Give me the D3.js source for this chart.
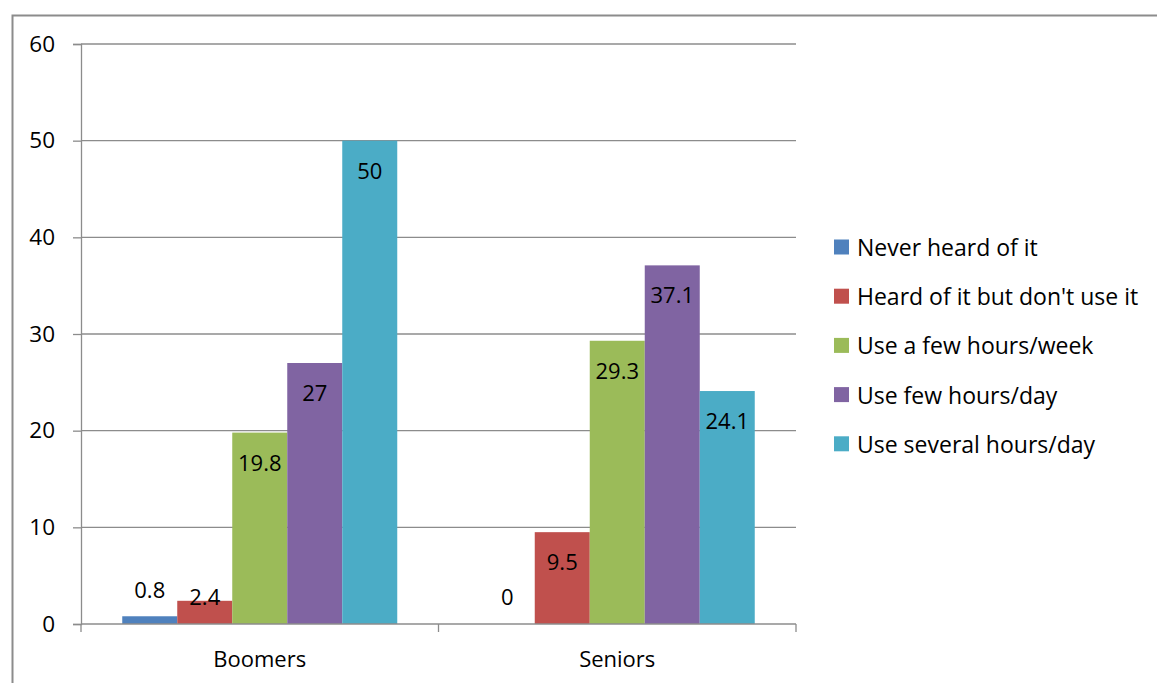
<!DOCTYPE html>
<html>
<head>
<meta charset="utf-8">
<script src="https://cdn.jsdelivr.net/npm/d3@7"></script>
<style>
  html, body { margin: 0; padding: 0; background: #fff; }
  svg { display: block; }
  text { font-family: "Open Sans", "Noto Sans", sans-serif; fill: #000; }
</style>
</head>
<body>
<svg id="chart" width="1157" height="683"></svg>
<script>
// Survey groups and response shares (%)
const categories = ["Boomers", "Seniors"];
const seriesNames = [
  "Never heard of it",
  "Heard of it but don't use it",
  "Use a few hours/week",
  "Use few hours/day",
  "Use several hours/day"
];
const boomersValues = [0.8, 2.4, 19.8, 27, 50];
const seniorsValues = [0, 9.5, 29.3, 37.1, 24.1];
const yTicks = [0, 10, 20, 30, 40, 50, 60];
const seriesColors = ["#4F81BD", "#C0504D", "#9BBB59", "#8064A2", "#4BACC6"];

const valuesByCategory = { Boomers: boomersValues, Seniors: seniorsValues };
const FONT = "'Open Sans', 'Noto Sans', sans-serif";

const svg = d3.select("#chart");

// outer frame
svg.append("rect")
  .attr("x", 12.5).attr("y", 15.5)
  .attr("width", 1160).attr("height", 680)
  .attr("fill", "none").attr("stroke", "#8c8c8c").attr("stroke-width", 2);

const plot = { left: 81, right: 796, top: 44, bottom: 624 };

const y = d3.scaleLinear().domain([0, 60]).range([plot.bottom, plot.top]);
const x0 = d3.scaleBand().domain(categories).range([plot.left, plot.right]).padding(0);
const x1 = d3.scaleBand().domain(seriesNames).range([0, x0.bandwidth()])
  .paddingInner(0).paddingOuter(0.75);

// horizontal gridlines
svg.append("g")
  .selectAll("line")
  .data(yTicks.filter(t => t > 0))
  .join("line")
  .attr("x1", plot.left).attr("x2", plot.right)
  .attr("y1", d => y(d)).attr("y2", d => y(d))
  .attr("stroke", "#8c8c8c").attr("stroke-width", 1.3);

// y axis
const yAxis = svg.append("g")
  .attr("transform", `translate(${plot.left},0)`)
  .call(d3.axisLeft(y).tickValues(yTicks).tickSize(8).tickPadding(18));
yAxis.select(".domain").attr("stroke", "#8c8c8c").attr("stroke-width", 1.3);
yAxis.selectAll(".tick line").attr("stroke", "#8c8c8c").attr("stroke-width", 1.3);
yAxis.selectAll(".tick text")
  .style("font-family", FONT)
  .style("font-size", "22.5px").attr("fill", "#000");

// bars
const groups = svg.append("g")
  .selectAll("g")
  .data(categories)
  .join("g")
  .attr("transform", d => `translate(${x0(d)},0)`);

const barData = c => valuesByCategory[c].map((v, i) => ({ cat: c, name: seriesNames[i], value: v, color: seriesColors[i] }));

groups.selectAll("rect")
  .data(barData)
  .join("rect")
  .attr("x", d => x1(d.name))
  .attr("width", x1.bandwidth())
  .attr("y", d => y(d.value))
  .attr("height", d => y(0) - y(d.value))
  .attr("fill", d => d.color);

// value labels: just inside the top of the bar, kept clear of the baseline
groups.selectAll("text.value")
  .data(barData)
  .join("text")
  .attr("class", "value")
  .attr("x", d => x1(d.name) + x1.bandwidth() / 2)
  .attr("y", d => d.value > 0 && d.value < 1 ? y(d.value) - 18 : Math.min(y(d.value) + 38, y(0) - 19))
  .attr("text-anchor", "middle")
  .style("font-size", "22px")
  .text(d => d3.format("")(d.value));

// x axis
const xAxis = svg.append("g")
  .attr("transform", `translate(0,${plot.bottom})`);
xAxis.append("line")
  .attr("x1", plot.left).attr("x2", plot.right)
  .attr("stroke", "#8c8c8c").attr("stroke-width", 1.3);
xAxis.selectAll("line.tick")
  .data([plot.left, ...categories.map(c => x0(c) + x0.bandwidth())])
  .join("line")
  .attr("class", "tick")
  .attr("x1", d => d).attr("x2", d => d)
  .attr("y1", 0).attr("y2", 8)
  .attr("stroke", "#8c8c8c").attr("stroke-width", 1.3);
xAxis.selectAll("text")
  .data(categories)
  .join("text")
  .attr("x", d => x0(d) + x0.bandwidth() / 2)
  .attr("y", 43)
  .attr("text-anchor", "middle")
  .style("font-size", "22px")
  .text(d => d);

// legend
const legend = svg.append("g").attr("transform", "translate(834,247)");
const items = legend.selectAll("g")
  .data(seriesNames)
  .join("g")
  .attr("transform", (d, i) => `translate(0,${i * 49.2})`);
items.append("rect")
  .attr("x", 0).attr("y", -7.5)
  .attr("width", 15).attr("height", 15)
  .attr("fill", (d, i) => seriesColors[i]);
items.append("text")
  .attr("x", 23).attr("y", 9)
  .style("font-size", "23px")
  .text(d => d);
</script>
</body>
</html>
